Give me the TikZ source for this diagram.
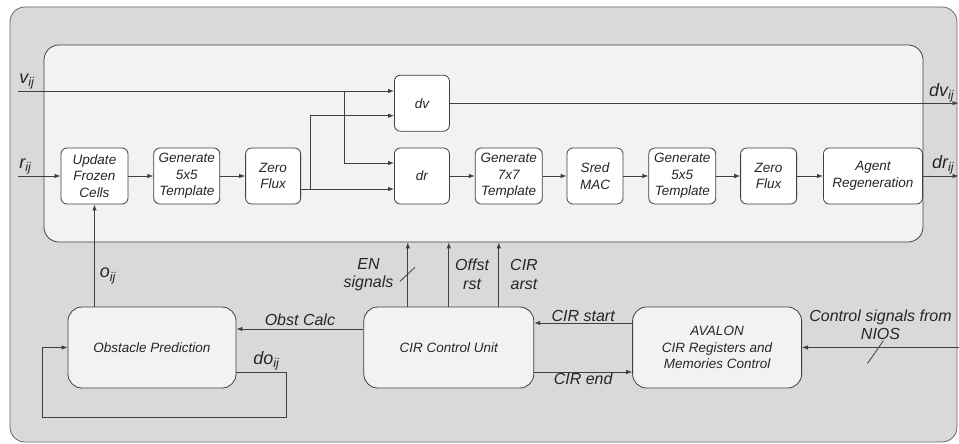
\documentclass[tikz,border=0pt]{standalone}
\usepackage{fontspec}
\setmainfont{Liberation Sans}
\usetikzlibrary{arrows.meta, positioning}
\definecolor{outerfill}{HTML}{D9D9D9}
\definecolor{innerfill}{HTML}{F2F2F2}
\definecolor{linecol}{HTML}{404040}
\definecolor{textcol}{HTML}{262626}
\newcommand{\boxfont}{\itshape\fontsize{13.5}{16.5}\selectfont}
\newcommand{\lblfont}{\itshape\fontsize{16}{18.5}\selectfont}
\newcommand{\sigfont}{\itshape\fontsize{18}{20}\selectfont}
\tikzstyle{frame} = [rectangle, rounded corners=15pt, draw=linecol!80, fill=outerfill, minimum width=947pt, minimum height=435pt]
\tikzstyle{core} = [rectangle, rounded corners=15pt, draw=linecol, fill=innerfill, minimum width=879pt, minimum height=197pt]
\tikzstyle{block} = [rectangle, rounded corners=6pt, minimum width=55pt, minimum height=56pt, inner sep=2pt, text centered, align=center, draw=linecol, fill=white, font=\boxfont]
\tikzstyle{unit} = [rectangle, rounded corners=14pt, minimum width=169pt, minimum height=81pt, text centered, align=center, draw=linecol, fill=innerfill, font=\boxfont]
\tikzstyle{arrow} = [-{Latex[length=6pt,width=4.5pt]}]
\tikzstyle{lbl} = [font=\lblfont, inner sep=1pt, align=center]
\tikzstyle{sig} = [font=\sigfont, inner sep=1pt]

\begin{document}
\begin{tikzpicture}[x=1pt, y=-1pt, line width=0.8pt, color=linecol, text=textcol]
\useasboundingbox (0,0) rectangle (959,444);

% background frames
\node (frame) [frame] at (483.5,224.5) {};
\node (core)  [core]  at (483.5,143.5) {};

% processing chain
\node (upd)   [block, minimum width=67pt] at (94.5,176) {Update\\Frozen\\Cells};
\node (gen5)  [block, minimum width=66pt, right=25pt of upd] {Generate\\5x5\\Template};
\node (zf)    [block, right=25pt of gen5] {Zero\\Flux};
\node (dr)    [block, right=93pt of zf] {dr};
\node (dv)    [block, above=16pt of dr] {dv};
\node (gen7)  [block, minimum width=67pt, right=25pt of dr] {Generate\\7x7\\Template};
\node (sred)  [block, minimum width=56pt, right=24pt of gen7] {Sred\\MAC};
\node (gen5b) [block, minimum width=67pt, right=25pt of sred] {Generate\\5x5\\Template};
\node (zf2)   [block, minimum width=56pt, right=24pt of gen5b] {Zero\\Flux};
\node (agent) [block, minimum width=99pt, right=26pt of zf2] {Agent\\Regeneration};

% control units
\node (obst)   [unit, minimum width=168pt] at (152,347.5) {Obstacle Prediction};
\node (cir)    [unit, minimum width=170pt, right=127pt of obst] {CIR Control Unit};
\node (avalon) [unit, right=98pt of cir] {AVALON\\CIR Registers and\\Memories Control};

% free ends
\coordinate (vin)   at (18,91);
\coordinate (rin)   at (18,176);
\coordinate (vbr)   at (344,91);
\coordinate (zbr)   at (310,189);
\coordinate (dvout) at (958.5,104);
\coordinate (drout) at (958.5,176);
\coordinate (nios)  at (959,347.5);
\coordinate (fbloop) at (42,417);

% inputs
\draw [arrow] (vin) -- (vin -| dv.west);
\node [sig, anchor=south west] at (vin) {v\textsubscript{ij}};
\draw [arrow] (vbr) |- ([yshift=13pt]dr.west);
\draw [arrow] (rin) -- (upd);
\node [sig, anchor=south west] at (rin) {r\textsubscript{ij}};

% main chain
\draw [arrow] (upd) -- (gen5);
\draw [arrow] (gen5) -- (zf);
\draw [arrow] ([yshift=-13pt]zf.east) -- ([yshift=-13pt]dr.west);
\draw [arrow] (zbr) |- ([yshift=-12.5pt]dv.west);
\draw [arrow] (dr) -- (gen7);
\draw [arrow] (gen7) -- (sred);
\draw [arrow] (sred) -- (gen5b);
\draw [arrow] (gen5b) -- (zf2);
\draw [arrow] (zf2) -- (agent);

% outputs
\draw [arrow] (dv.east) -- (dv.east -| dvout);
\node [sig, anchor=south east, xshift=-3pt] at (dv.east -| dvout) {dv\textsubscript{ij}};
\draw [arrow] (agent.east) -- (drout);
\node [sig, anchor=south east, xshift=-3pt] at (drout) {dr\textsubscript{ij}};

% obstacle loop
\draw [arrow] (obst.north -| upd) -- node[sig, right, pos=0.3, xshift=4pt] {o\textsubscript{ij}} (upd.south);
\draw [arrow] ([yshift=18.5pt]cir.west) -- node[lbl, above, yshift=2pt] {Obst Calc} ([yshift=18.5pt]cir.west -| obst.east);
\draw [arrow] ([yshift=-24.5pt]obst.east) -- node[sig, above, xshift=5pt] {do\textsubscript{ij}} ++(50,0) |- (fbloop) |- (obst.west);

% control signals to the core
\draw [arrow] ([xshift=-41pt]cir.north) -- coordinate (enmid) node[lbl, left, xshift=-13pt] {EN\\signals} ([xshift=-41pt]cir.north |- core.south);
\draw ([shift={(-8,7)}]enmid) -- ++(15,-14);
\draw [arrow] (cir.north) -- node[lbl, right, xshift=5pt] {Offst\\rst} (cir.north |- core.south);
\draw [arrow] ([xshift=50pt]cir.north) -- node[lbl, right, xshift=10pt] {CIR\\arst} ([xshift=50pt]cir.north |- core.south);

% avalon handshake
\draw [arrow] ([yshift=24.5pt]avalon.west) -- node[lbl, above] {CIR start} ([yshift=24.5pt]avalon.west -| cir.east);
\draw [arrow] ([yshift=-24.5pt]cir.east) -- node[lbl, below] {CIR end} ([yshift=-24.5pt]cir.east -| avalon.west);
\draw [arrow] (nios) -- coordinate (nmid) node[lbl, above, yshift=6pt] {Control signals from\\NIOS} (avalon.east);
\draw ([shift={(-13,16)}]nmid) -- ++(16,-23);

\end{tikzpicture}
\end{document}
